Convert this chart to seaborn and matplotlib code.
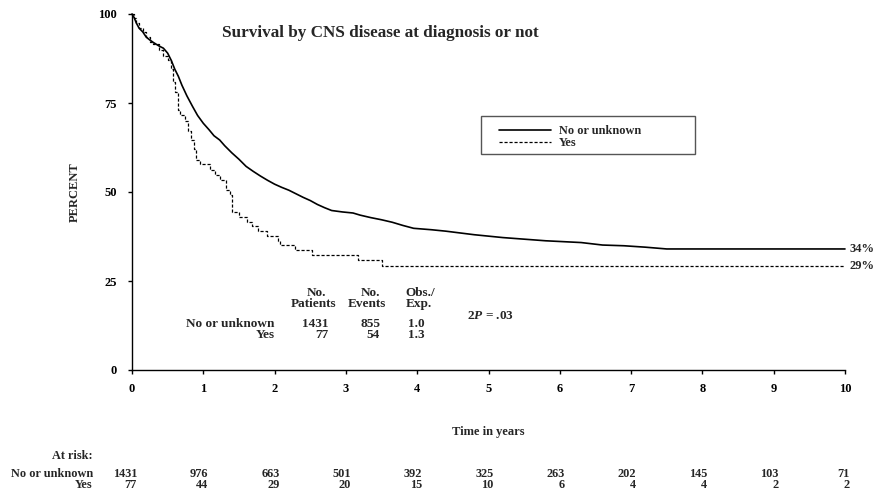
import matplotlib
matplotlib.use("Agg")
import matplotlib.pyplot as plt
import matplotlib.patches as mpatches
import numpy as np
import pandas as pd
import seaborn as sns

# survival curve estimates (years, percent)
no_times = [0, 0.03, 0.06, 0.1, 0.15, 0.2, 0.25, 0.3, 0.38, 0.44, 0.5, 0.55, 0.6, 0.65,
            0.7, 0.77, 0.85, 0.92, 1.0, 1.08, 1.15, 1.23, 1.3, 1.4, 1.5, 1.6, 1.7, 1.8,
            1.9, 2.0, 2.1, 2.2, 2.3, 2.4, 2.5, 2.6, 2.7, 2.8, 2.95, 3.1, 3.2, 3.35, 3.5,
            3.65, 3.8, 3.95, 4.2, 4.4, 4.6, 4.8, 5.0, 5.2, 5.4, 5.6, 5.8, 6.0, 6.3, 6.6,
            6.9, 7.2, 7.5, 10.0]
no_surv = [100, 99, 97.5, 96, 95, 93.5, 92.7, 92, 91, 90.4, 89, 87, 84.5, 82.5,
           80, 77, 74, 71.5, 69.3, 67.5, 65.8, 64.6, 63, 61, 59.2, 57.2, 55.8, 54.5,
           53.3, 52.2, 51.3, 50.5, 49.5, 48.5, 47.6, 46.5, 45.6, 44.8, 44.4, 44.1, 43.5,
           42.8, 42.2, 41.5, 40.6, 39.8, 39.4, 39.0, 38.5, 38.0, 37.6, 37.2, 36.9, 36.6,
           36.3, 36.1, 35.8, 35.1, 34.9, 34.5, 34.0, 34.0]

yes_times = [0, 0.03, 0.06, 0.1, 0.15, 0.2, 0.25, 0.3, 0.38, 0.44, 0.5, 0.55, 0.58, 0.61,
             0.64, 0.67, 0.75, 0.79, 0.83, 0.87, 0.9, 0.96, 1.09, 1.16, 1.23, 1.32, 1.37,
             1.40, 1.5, 1.61, 1.68, 1.77, 1.9, 2.05, 2.08, 2.29, 2.52, 3.17, 3.5, 10.0]
yes_surv = [100, 99, 97.5, 96, 95, 93.5, 92.2, 91.5, 90, 88.3, 87, 84.5, 81, 78,
            73, 71.6, 70, 67, 64.6, 62, 59, 57.8, 56.2, 54.8, 53.4, 50.6, 49.2,
            44.5, 43.1, 41.7, 40.4, 39.0, 37.6, 36.3, 35.0, 33.7, 32.3, 30.9, 29.2, 29.2]

groups = ["No or unknown", "Yes"]
final_pct = ["34%", "29%"]
n_patients = [1431, 77]
n_events = [855, 54]
obs_exp = ["1.0", "1.3"]
risk_years = list(range(0, 11))
at_risk_no = [1431, 976, 663, 501, 392, 325, 263, 202, 145, 103, 71]
at_risk_yes = [77, 44, 29, 20, 15, 10, 6, 4, 4, 2, 2]

sns.set_style("ticks")
plt.rcParams["font.family"] = ["Liberation Serif", "DejaVu Serif"]
plt.rcParams["font.weight"] = "bold"
plt.rcParams["axes.labelweight"] = "bold"
plt.rcParams["mathtext.fontset"] = "custom"
plt.rcParams["mathtext.it"] = "Liberation Serif:italic:bold"
plt.rcParams["mathtext.rm"] = "Liberation Serif:bold"

fig = plt.figure(figsize=(8.73, 4.93), dpi=100)
ax = fig.add_axes([132 / 873, 1 - 370 / 493, 713 / 873, 356 / 493])

# many small events -> plain line; the small group is drawn as steps
sns.lineplot(x=no_times, y=no_surv, color="black", linewidth=1.2,
             estimator=None, ax=ax)
sns.lineplot(x=yes_times, y=yes_surv, color="black", linewidth=0.9,
             dashes=(2.5, 1.5), drawstyle="steps-post", estimator=None, ax=ax)
ax.lines[1].set_dashes((2.5, 1.5))
for ln in ax.lines:
    ln.set_clip_on(False)

ax.set_xlim(0, 10)
ax.set_ylim(0, 100)
ax.set_xticks(range(0, 11))
ax.set_yticks([0, 25, 50, 75, 100])
ax.tick_params(axis="both", direction="out", length=3, width=1, colors="black",
               labelsize=9)
ax.tick_params(axis="x", pad=6)
ax.tick_params(axis="y", pad=8)
for lab in ax.get_xticklabels() + ax.get_yticklabels():
    lab.set_fontweight("bold")
sns.despine(ax=ax)
for sp in ["left", "bottom"]:
    ax.spines[sp].set_color("black")
    ax.spines[sp].set_linewidth(1)

ax.set_ylabel("PERCENT", fontsize=9)
ax.yaxis.set_label_coords(-0.072, 0.5)
ax.set_xlabel("Time in years", fontsize=9)
ax.xaxis.set_label_coords(0.5, -0.158)

ax.text(0.348, 0.947, "Survival by CNS disease at diagnosis or not", transform=ax.transAxes,
        ha="center", va="center", fontsize=12.3, fontweight="bold")

# legend
ax.add_patch(mpatches.Rectangle((0.489, 0.607), 0.30, 0.106, transform=ax.transAxes,
                                fill=False, edgecolor="#555555", linewidth=1))
ax.legend(handles=ax.lines[:2], labels=groups, loc="upper left",
          bbox_to_anchor=(0.515, 0.688), frameon=False, fontsize=8.8,
          handlelength=4.2, handletextpad=0.7, labelspacing=0.0, borderpad=0,
          borderaxespad=0)

# end labels
for val, txt in zip([no_surv[-1], yes_surv[-1]], final_pct):
    ax.text(10.06, val, txt, ha="left", va="center", fontsize=9, clip_on=False)

# summary table
fs = 9.5
ax.text(2.59, 21.7, "No.", ha="center", va="center", fontsize=fs)
ax.text(2.55, 18.5, "Patients", ha="center", va="center", fontsize=fs)
ax.text(3.34, 21.7, "No.", ha="center", va="center", fontsize=fs)
ax.text(3.30, 18.5, "Events", ha="center", va="center", fontsize=fs)
ax.text(4.04, 21.7, "Obs./", ha="center", va="center", fontsize=fs)
ax.text(4.03, 18.5, "Exp.", ha="center", va="center", fontsize=fs)
for y, g, n, e, oe in zip([13.0, 9.9], groups, n_patients, n_events, obs_exp):
    ax.text(2.0, y, g, ha="right", va="center", fontsize=fs)
    ax.text(2.75, y, str(n), ha="right", va="center", fontsize=fs)
    ax.text(3.48, y, str(e), ha="right", va="center", fontsize=fs)
    ax.text(4.11, y, oe, ha="right", va="center", fontsize=fs)
ax.text(4.70, 15.2, r"2$\it{P}$ = .03", ha="left", va="center", fontsize=fs)

# numbers at risk
tr = ax.get_xaxis_transform()
rfs = 8.8
ax.text(-0.55, -0.241, "At risk:", transform=tr, ha="right", va="center", fontsize=rfs)
ax.text(-0.55, -0.293, groups[0], transform=tr, ha="right", va="center", fontsize=rfs)
ax.text(-0.55, -0.324, groups[1], transform=tr, ha="right", va="center", fontsize=rfs)
for x, a, b in zip(risk_years, at_risk_no, at_risk_yes):
    ax.text(x + 0.07, -0.293, str(a), transform=tr, ha="right", va="center", fontsize=rfs)
    ax.text(x + 0.07, -0.324, str(b), transform=tr, ha="right", va="center", fontsize=rfs)

fig.savefig("out.png", dpi=100)
